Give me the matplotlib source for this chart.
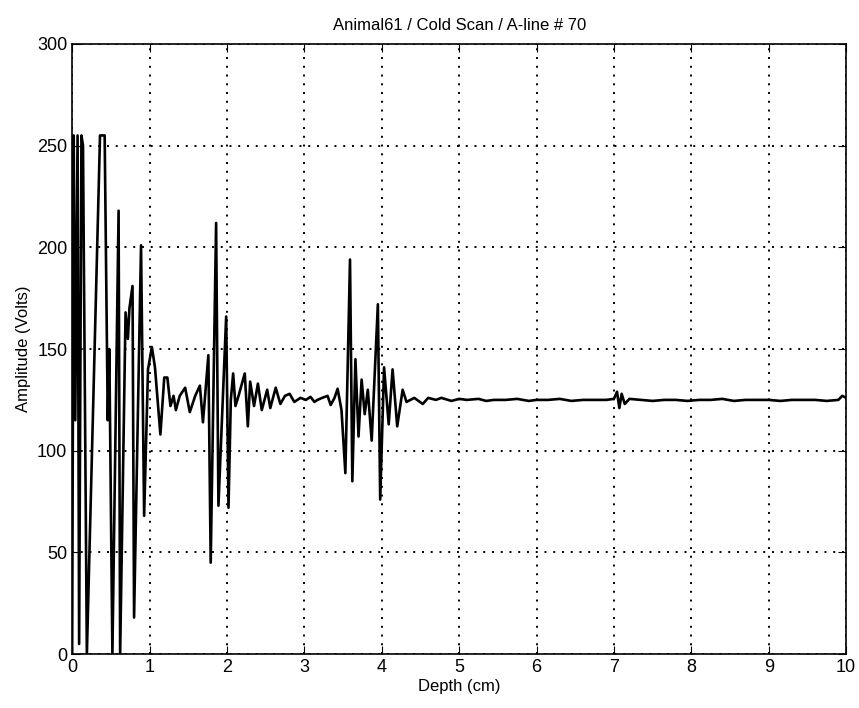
import numpy as np
import matplotlib
matplotlib.use("Agg")
import matplotlib.pyplot as plt

# A-line trace
depth = [0.00, 0.02, 0.04, 0.07, 0.09, 0.12, 0.14, 0.19, 0.36, 0.42,
         0.46, 0.48, 0.52, 0.60, 0.62, 0.69, 0.72, 0.74, 0.78, 0.80,
         0.89, 0.93, 0.98, 1.03, 1.07, 1.14, 1.19, 1.23, 1.27, 1.31,
         1.34, 1.39, 1.46, 1.52, 1.59, 1.65, 1.69, 1.76, 1.79, 1.86,
         1.89, 1.99, 2.02, 2.05, 2.08, 2.11, 2.15, 2.23, 2.27, 2.30,
         2.35, 2.40, 2.45, 2.52, 2.56, 2.63, 2.69, 2.75, 2.81, 2.87,
         2.95, 3.02, 3.08, 3.13, 3.17, 3.23, 3.30, 3.34, 3.39, 3.43,
         3.48, 3.53, 3.59, 3.62, 3.66, 3.70, 3.74, 3.78, 3.82, 3.87,
         3.95, 3.98, 4.03, 4.09, 4.14, 4.20, 4.27, 4.32, 4.42, 4.53,
         4.60, 4.70, 4.77, 4.90, 5.00, 5.10, 5.25, 5.35, 5.45, 5.60,
         5.75, 5.90, 6.00, 6.15, 6.30, 6.45, 6.60, 6.75, 6.90, 7.00,
         7.04, 7.07, 7.10, 7.14, 7.20, 7.35, 7.50, 7.65, 7.80, 7.95,
         8.10, 8.25, 8.40, 8.55, 8.70, 8.85, 9.00, 9.15, 9.30, 9.45,
         9.60, 9.75, 9.90, 9.95, 10.00]
amplitude = [0, 255, 115, 255, 5, 255, 250, 0, 255, 255,
             115, 150, 0, 218, 0, 168, 155, 170, 181, 18,
             201, 68, 140, 151, 141, 108, 136, 136, 122, 127,
             120, 127, 131, 119, 127, 132, 114, 147, 45, 212,
             73, 166, 72, 125, 138, 122, 127, 138, 112, 134,
             122, 133, 120, 130, 121, 131, 123, 127, 128, 124,
             126, 125, 126.5, 124, 125, 126, 127, 122.5, 126, 130.5,
             120, 89, 194, 85, 145, 107, 135, 118, 130, 105,
             172, 76, 141, 113, 140, 112, 130, 124, 126, 123,
             126, 125, 126, 124.5, 125.5, 125, 125.5, 124.5, 125, 125,
             125.5, 124.5, 125, 125, 125.5, 124.5, 125, 125, 125, 125.5,
             129, 121, 128, 123, 125.5, 125, 124.5, 125, 125, 124.5,
             125, 125, 125.5, 124.5, 125, 125, 125, 124.5, 125, 125,
             125, 124.5, 125, 127, 126]

plt.rcParams['font.family'] = ['Liberation Sans', 'DejaVu Sans']

fig = plt.figure(figsize=(8.59, 7.08), dpi=100)
ax = fig.add_axes([0.084, 0.076, 0.901, 0.862])
ax.plot(depth, amplitude, color='black', linewidth=1.9)
ax.set_xlim(0, 10)
ax.set_ylim(0, 300)
ax.set_xticks(range(0, 11))
ax.set_yticks(range(0, 301, 50))
ax.grid(True, color='black', linestyle=(0, (1, 3.5)), linewidth=1.4)
ax.tick_params(direction='in', top=True, right=True, labelsize=13, length=6)
for s in ax.spines.values():
    s.set_linewidth(1.2)
ax.set_title("Animal61 / Cold Scan / A-line # 70", fontsize=12, pad=10)
ax.set_xlabel("Depth (cm)", fontsize=12, labelpad=2)
ax.set_ylabel("Amplitude (Volts)", fontsize=12, labelpad=4)

fig.savefig("out.png", dpi=100)
